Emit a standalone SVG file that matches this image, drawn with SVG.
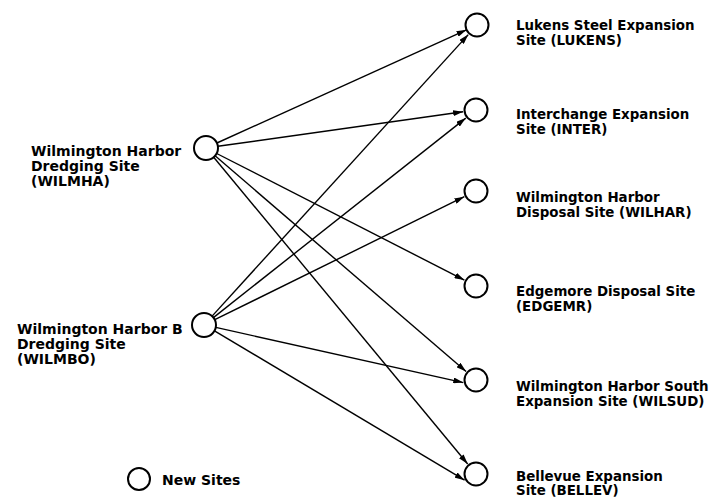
<svg xmlns="http://www.w3.org/2000/svg" width="714" height="498" viewBox="0 0 714 498">
<style>
.node{fill:#fff;stroke:#000;stroke-width:2}
.lbl{font-family:"DejaVu Sans","Liberation Sans",sans-serif;font-weight:bold;font-size:13.4px;fill:#000}
.lblL{font-family:"DejaVu Sans","Liberation Sans",sans-serif;font-weight:bold;font-size:14px;fill:#000}
.edge{stroke:#000;stroke-width:1.4;fill:none;marker-end:url(#arr)}
</style>
<defs>
<marker id="arr" viewBox="0 0 10 6" refX="10" refY="3" markerWidth="10" markerHeight="6" markerUnits="userSpaceOnUse" orient="auto">
<path d="M0,0 L10,3 L0,6 z" fill="#000"/>
</marker>
</defs>
<rect width="714" height="498" fill="#fff"/>
<g id="connectors">
<line class="edge" x1="216.9" y1="143" x2="466.5" y2="29.8"/>
<line class="edge" x1="217.9" y1="146.3" x2="463.1" y2="111.8"/>
<line class="edge" x1="216.7" y1="153.5" x2="464.4" y2="280.1"/>
<line class="edge" x1="215.1" y1="155.8" x2="466.1" y2="371.5"/>
<line class="edge" x1="213.7" y1="157.2" x2="467.7" y2="464"/>
<line class="edge" x1="212.1" y1="316.1" x2="468.3" y2="34.6"/>
<line class="edge" x1="213.4" y1="317.6" x2="465.8" y2="118.1"/>
<line class="edge" x1="214.8" y1="319.7" x2="464.3" y2="196.7"/>
<line class="edge" x1="215.8" y1="327.4" x2="463.3" y2="382.6"/>
<line class="edge" x1="214.5" y1="330.8" x2="464.6" y2="480.2"/>
</g>
<g id="WILMHA">
<circle class="node" cx="206" cy="148" r="12"/>
<text class="lblL" x="31" y="156">Wilmington Harbor</text>
<text class="lblL" x="31" y="171">Dredging Site</text>
<text class="lblL" x="31" y="186">(WILMHA)</text>
</g>
<g id="WILMBO">
<circle class="node" cx="204" cy="325" r="12"/>
<text class="lblL" x="17" y="334">Wilmington Harbor B</text>
<text class="lblL" x="17" y="349">Dredging Site</text>
<text class="lblL" x="17" y="364">(WILMBO)</text>
</g>
<g id="LUKENS">
<circle class="node" cx="477" cy="25" r="11.5"/>
<text class="lbl" x="516" y="30">Lukens Steel Expansion</text>
<text class="lbl" x="516" y="45">Site (LUKENS)</text>
</g>
<g id="INTER">
<circle class="node" cx="476" cy="110" r="11.5"/>
<text class="lbl" x="516" y="119">Interchange Expansion</text>
<text class="lbl" x="516" y="134">Site (INTER)</text>
</g>
<g id="WILHAR">
<circle class="node" cx="476" cy="191" r="11.5"/>
<text class="lbl" x="516" y="202">Wilmington Harbor</text>
<text class="lbl" x="516" y="217">Disposal Site (WILHAR)</text>
</g>
<g id="EDGEMR">
<circle class="node" cx="476" cy="286" r="11.5"/>
<text class="lbl" x="516" y="296">Edgemore Disposal Site</text>
<text class="lbl" x="516" y="311">(EDGEMR)</text>
</g>
<g id="WILSUD">
<circle class="node" cx="476" cy="380" r="11.5"/>
<text class="lbl" x="516" y="391">Wilmington Harbor South</text>
<text class="lbl" x="516" y="406">Expansion Site (WILSUD)</text>
</g>
<g id="BELLEV">
<circle class="node" cx="476" cy="474" r="11.5"/>
<text class="lbl" x="516" y="481">Bellevue Expansion</text>
<text class="lbl" x="516" y="495">Site (BELLEV)</text>
</g>
<g id="legend">
<circle class="node" cx="139" cy="479" r="11"/>
<text class="lblL" x="162" y="485">New Sites</text>
</g>
</svg>
